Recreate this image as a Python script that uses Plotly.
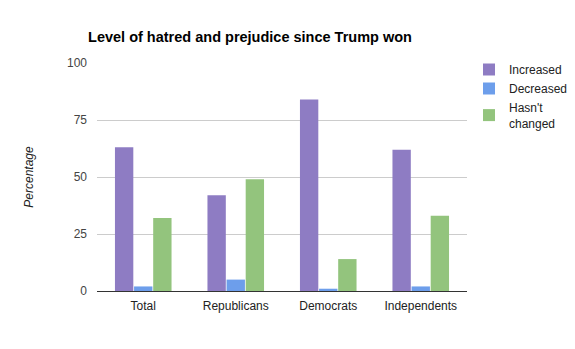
import plotly.graph_objects as go

categories = ["Total", "Republicans", "Democrats", "Independents"]
increased = [63, 42, 84, 62]
decreased = [2, 5, 1, 2]
unchanged = [32, 49, 14, 33]
series_names = ["Increased", "Decreased", "Hasn't<br>changed"]
colors = ["#8e7cc3", "#6d9eeb", "#93c47d"]
y_ticks = [0, 25, 50, 75, 100]

fig = go.Figure()
for name, vals, col in zip(series_names, [increased, decreased, unchanged], colors):
    fig.add_trace(go.Bar(x=categories, y=vals, name=name, marker_color=col,
                         marker_line_width=0))

fig.update_layout(
    width=575, height=349,
    margin=dict(l=97, r=108, t=63, b=58, autoexpand=False),
    paper_bgcolor="white", plot_bgcolor="white",
    font=dict(family="Liberation Sans, Arial, sans-serif", size=12, color="#444"),
    title=dict(text="<b>Level of hatred and prejudice since Trump won</b>",
               x=250 / 575, xanchor="center", y=1 - 37 / 349, yanchor="middle",
               font=dict(size=14.5, color="#000")),
    barmode="group", bargap=0.38, bargroupgap=0.04,
    legend=dict(xref="container", yref="container", x=469 / 575, xanchor="left",
                y=1 - 55 / 349, yanchor="top",
                font=dict(size=12, color="#222"), tracegroupgap=0,
                itemwidth=30),
    xaxis=dict(showgrid=False, ticks="", showline=True, linecolor="#333",
               linewidth=1, tickfont=dict(size=12, color="#222"),
               ticklabelstandoff=4),
    yaxis=dict(range=[0, 100], tickvals=y_ticks, showgrid=True, gridcolor="#ccc",
               zeroline=False, ticks="", tickfont=dict(size=12, color="#444"),
               ticklabelstandoff=9,
               title=dict(text="<i>Percentage</i>", standoff=30,
                          font=dict(size=12, color="#222"))),
)

fig.write_html("out.html")
